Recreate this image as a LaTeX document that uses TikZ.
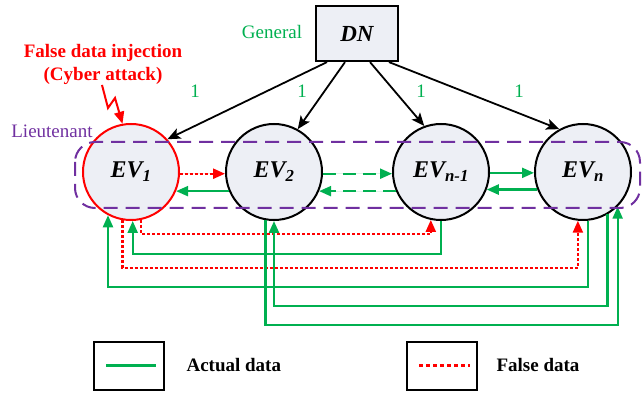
\documentclass[tikz,border=0pt]{standalone}
\usepackage{fontspec}
\setmainfont{Liberation Serif}
\usetikzlibrary{arrows.meta,calc}
\definecolor{offgreen}{RGB}{0,176,80}
\definecolor{offpurple}{RGB}{112,48,160}
\definecolor{nodefill}{RGB}{237,239,245}
\tikzset{
  ev/.style={circle,draw=black,line width=2pt,fill=nodefill,minimum size=96pt,inner sep=0pt,
    font=\fontsize{24}{26}\selectfont\bfseries\itshape},
  dnbox/.style={rectangle,draw=black,line width=2.2pt,fill=nodefill,minimum width=82pt,minimum height=55pt,
    inner sep=0pt,font=\fontsize{23}{25}\selectfont\bfseries\itshape},
  actual/.style={draw=offgreen,line width=2.2pt},
  falsed/.style={draw=red,line width=2.3pt,dash pattern=on 3pt off 2pt},
  gdash/.style={draw=offgreen,line width=2.2pt,dash pattern=on 13pt off 7pt},
  gtip/.style={-{Triangle[length=12pt,width=10pt]}},
  btip/.style={-{Stealth[length=13pt,width=11pt,inset=3pt]}},
  conn/.style={draw=black,line width=1.8pt},
  lbl/.style={font=\fontsize{19}{21}\selectfont,anchor=base},
  lblb/.style={font=\fontsize{19}{21}\selectfont\bfseries,anchor=base},
  legbox/.style={rectangle,draw=black,line width=1.9pt,minimum width=70pt,minimum height=48pt,inner sep=0pt},
}
\begin{document}
\begin{tikzpicture}[x=1pt,y=-1pt]
\useasboundingbox (0,0) rectangle (643,395);
% nodes
\node[dnbox] (dn) at (357,33.5) {DN};
\node[ev,draw=red] (ev1) at (131,172) {EV\textsubscript{1}};
\node[ev] (ev2) at (274,172) {EV\textsubscript{2}};
\node[ev] (evm) at (441,172) {EV\textsubscript{n-1}};
\node[ev] (evn) at (583,172) {EV\textsubscript{n}};
% labels
\node[lbl,text=offgreen] (gen) at (272,39) {General};
\node[lblb,text=red] (fdi) at (103,58) {False data injection};
\node[lblb,text=red] (cyb) at (103,81) {(Cyber attack)};
\node[lbl,text=offpurple] (lt) at (52,138) {Lieutenant};
\node[lbl,text=offgreen] (o1) at (195,98) {1};
\node[lbl,text=offgreen] (o2) at (302,98) {1};
\node[lbl,text=offgreen] (o3) at (421,98) {1};
\node[lbl,text=offgreen] (o4) at (519,98) {1};
% DN arrows
\draw[conn,btip] ($(dn.south)+(-30,0)$) -- (ev1.42);
\draw[conn,btip] ($(dn.south)+(-12,0)$) -- (ev2.61);
\draw[conn,btip] ($(dn.south)+(13,0)$) -- (evm.110);
\draw[conn,btip] ($(dn.south)+(32,0)$) -- (evn.119);
% lightning bolt
\coordinate (b0) at ($(cyb.base)+(-1,4)$);
\draw[draw=red,line width=2pt,-{Triangle[length=12pt,width=10pt]},red] (b0) -- ++(6,23) -- ++(7,-10) -- (ev1.100);
% horizontal links
\draw[falsed,gtip,fill=red] (ev1.-2.5) -- (ev2.182.5);
\draw[actual,gtip,fill=offgreen] (ev2.203) -- (ev1.-23);
\draw[gdash,gtip,fill=offgreen] (ev2.-2.5) -- (evm.182.5);
\draw[gdash,gtip,fill=offgreen] (evm.203) -- (ev2.-23);
\draw[actual,gtip,fill=offgreen] (evm.-1) -- (evn.181);
\draw[actual,gtip,fill=offgreen] (evn.201.5) -- (evm.-21.5);
% levels
\coordinate (l1) at (0,234);
\coordinate (l2) at (0,254);
\coordinate (l3) at (0,268);
\coordinate (l4) at (0,287);
\coordinate (l5) at (0,306);
\coordinate (l6) at (0,325);
\draw[falsed,gtip] (ev1.-78) -- (ev1.-78 |- l1) -- (evm.-102 |- l1) -- (evm.-102);
\draw[actual,gtip] (evm.-90) -- (evm.-90 |- l2) -- (ev1.-88.8 |- l2) -- (ev1.-88.8);
\draw[falsed,gtip] (ev1.-100.8) -- (ev1.-100.8 |- l3) -- (evn.-96 |- l3) -- (evn.-96);
\draw[actual,gtip] (evn.-84) -- (evn.-84 |- l4) -- (ev1.-118.6 |- l4) -- (ev1.-118.6);
\draw[actual,gtip] (evn.-60) -- (evn.-60 |- l5) -- (ev2.-90 |- l5) -- (ev2.-90);
\draw[actual,gtip] (ev2.-100.8) -- (ev2.-100.8 |- l6) -- (evn.-45 |- l6) -- (evn.-45);
% lieutenant group
\draw[draw=offpurple,line width=2pt,dash pattern=on 14pt off 8pt,rounded corners=20pt] (75,142) rectangle (640,208);
% legend
\node[legbox] (lb1) at (129,366) {};
\node[legbox] (lb2) at (442,366) {};
\draw[draw=offgreen,line width=3pt] ($(lb1.west)+(13,0)$) -- ($(lb1.east)+(-9,0)$);
\draw[draw=red,line width=3pt,dash pattern=on 4pt off 3pt] ($(lb2.west)+(13,0)$) -- ($(lb2.east)+(-8,0)$);
\node[lblb,anchor=base west] (t1) at (183,372) {Actual data};
\node[lblb,anchor=base west] (t2) at (493,372) {False data};
\end{tikzpicture}
\end{document}
